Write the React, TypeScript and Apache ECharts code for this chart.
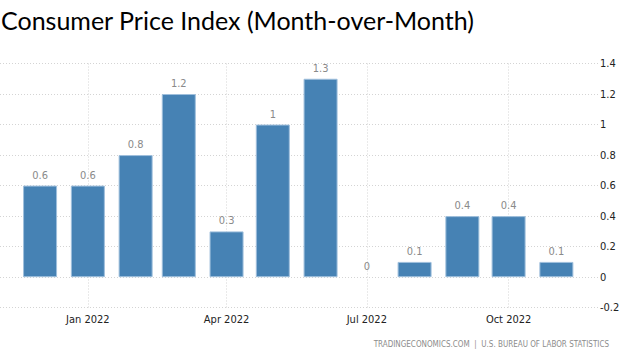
import React, { useEffect, useRef } from "react";
import * as echarts from "echarts";

const titleText = "Consumer Price Index (Month-over-Month)";
const sourceText = "TRADINGECONOMICS.COM  |  U.S. BUREAU OF LABOR STATISTICS";

const months = [
  "2021-12-01", "2022-01-01", "2022-02-01", "2022-03-01", "2022-04-01", "2022-05-01",
  "2022-06-01", "2022-07-01", "2022-08-01", "2022-09-01", "2022-10-01", "2022-11-01",
];
const cpiMoM = [0.6, 0.6, 0.8, 1.2, 0.3, 1, 1.3, 0, 0.1, 0.4, 0.4, 0.1];

const tickDates = ["2022-01-01", "2022-04-01", "2022-07-01", "2022-10-01"];
const tickLabels = ["Jan 2022", "Apr 2022", "Jul 2022", "Oct 2022"];

const axisMinDate = "2021-11-05";
const axisMaxDate = "2022-11-28";

const yMin = -0.2;
const yMax = 1.4;
const yStep = 0.2;

// day number (days since 1970-01-01, UTC)
function toDay(s: string): number {
  const [y, m, d] = s.split("-").map(Number);
  return Math.round(Date.UTC(y, m - 1, d) / 86400000);
}

export default function App() {
  const ref = useRef<HTMLDivElement>(null);

  useEffect(() => {
    if (!ref.current) return;
    const chart = echarts.init(ref.current, undefined, { renderer: "svg" });
    const tickDays = tickDates.map(toDay);
    const axisFont = "'DejaVu Sans Condensed', 'DejaVu Sans', sans-serif";
    chart.setOption({
      animation: false,
      backgroundColor: "#ffffff",
      title: [
        {
          text: titleText,
          left: 1,
          top: 5,
          padding: 0,
          textStyle: {
            fontFamily: "Lato, 'Open Sans', sans-serif",
            fontSize: 25,
            lineHeight: 30,
            fontWeight: "normal",
            color: "#000000",
          },
        },
        {
          text: sourceText,
          right: 19,
          bottom: 6,
          padding: 0,
          textStyle: {
            fontFamily: axisFont,
            fontSize: 8,
            fontWeight: "normal",
            color: "#8c8c8c",
          },
        },
      ],
      grid: { left: 0, right: 30, top: 63.5, bottom: 46.3, containLabel: false },
      xAxis: {
        type: "value",
        min: toDay(axisMinDate),
        max: toDay(axisMaxDate),
        axisLine: { show: false },
        axisTick: { show: false, customValues: tickDays },
        axisLabel: {
          customValues: tickDays,
          margin: 6,
          color: "#222222",
          fontFamily: axisFont,
          fontSize: 11,
          formatter: (v: number) => {
            const i = tickDays.indexOf(v);
            return i >= 0 ? tickLabels[i] : "";
          },
        },
        splitLine: {
          show: true,
          lineStyle: { color: "#d4d4d4", type: [1, 2], width: 1 },
        },
      },
      yAxis: {
        type: "value",
        position: "right",
        min: yMin,
        max: yMax,
        interval: yStep,
        axisLine: { show: false },
        axisTick: { show: false },
        axisLabel: {
          margin: 2,
          color: "#222222",
          fontFamily: axisFont,
          fontSize: 11,
          formatter: (v: number) => String(Math.round(v * 10) / 10),
        },
        splitLine: {
          show: true,
          lineStyle: { color: "#d4d4d4", type: [1, 2], width: 1 },
        },
      },
      series: [
        {
          type: "bar",
          data: months.map((m, i) =>
            cpiMoM[i] === 0
              ? { value: [toDay(m), cpiMoM[i]], itemStyle: { borderWidth: 0, color: "rgba(0,0,0,0)" } }
              : [toDay(m), cpiMoM[i]]
          ),
          barWidth: 34,
          itemStyle: {
            color: "#4682b4",
            borderColor: "#9fbfdc",
            borderWidth: 1,
          },
          label: {
            show: true,
            position: "top",
            distance: 5,
            color: "#8a8a8a",
            fontFamily: axisFont,
            fontSize: 11,
          },
        },
      ],
    });
    return () => chart.dispose();
  }, []);

  return (
    <div
      ref={ref}
      style={{ position: "absolute", left: 0, top: 0, width: 628, height: 354 }}
    />
  );
}
